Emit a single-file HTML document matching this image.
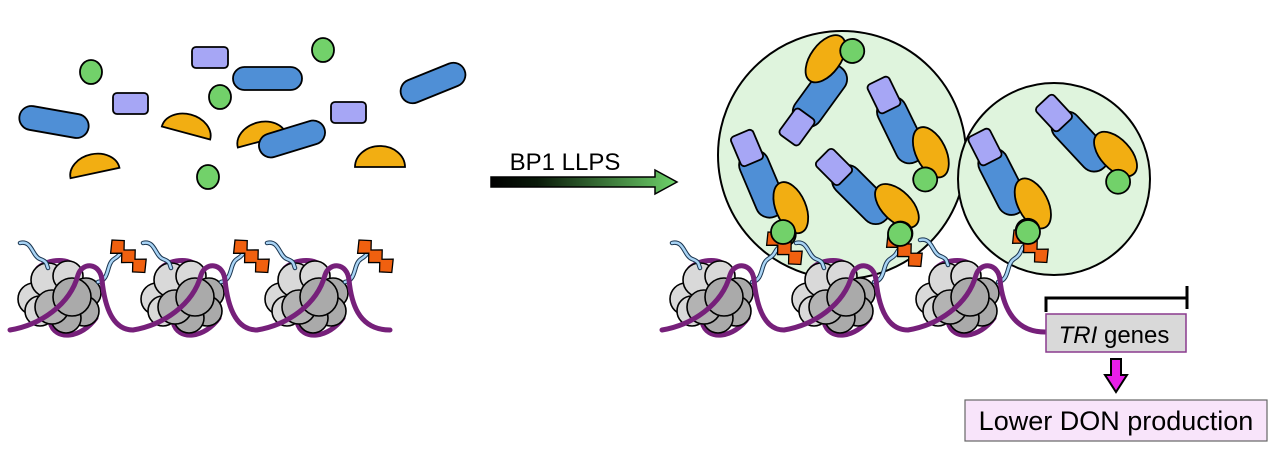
<!DOCTYPE html>
<html><head><meta charset="utf-8"><style>
html,body{margin:0;padding:0;background:#fff;}
svg{display:block;}
text{font-family:"Liberation Sans",Arial,sans-serif;}
</style></head><body>
<svg width="1280" height="472" viewBox="0 0 1280 472" xmlns="http://www.w3.org/2000/svg">
<defs>
  <linearGradient id="ag" x1="0" x2="1" y1="0" y2="0">
    <stop offset="0" stop-color="#000"/>
    <stop offset="0.25" stop-color="#0a1a0a"/>
    <stop offset="1" stop-color="#6ed36a"/>
  </linearGradient>
  <g id="nuc" stroke="#000" stroke-width="1.6">
    <circle cx="-26" cy="2" r="16" fill="#d9d9d9"/>
    <circle cx="-20" cy="14" r="15" fill="#d9d9d9"/>
    <circle cx="-12" cy="-17" r="17" fill="#d9d9d9"/>
    <circle cx="8" cy="-21" r="15" fill="#d9d9d9"/>
    <circle cx="26" cy="-4" r="15" fill="#aaaaaa"/>
    <circle cx="24" cy="14" r="15" fill="#aaaaaa"/>
    <circle cx="6" cy="21" r="15" fill="#aaaaaa"/>
    <circle cx="-8" cy="10" r="17" fill="#b3b3b3"/>
    <circle cx="12" cy="0" r="19" fill="#aaaaaa"/>
  </g>
  <g id="dnaseg" fill="none" stroke="#76207a" stroke-width="5" stroke-linecap="round">
    <path d="M40,322 C45,342 72,338 86,318"/>
    <path d="M28,268 C40,258 60,258 66,268"/>
  </g>
  <g id="cx" stroke="#000" stroke-width="1.8">
    <rect x="4" y="-15" width="70" height="30" rx="14" fill="#4f8fd6"/>
    <rect x="-16" y="-12" width="32" height="24" rx="4" fill="#a6a6f5"/>
    <ellipse cx="72" cy="-17" rx="27" ry="15" fill="#f2ae12"/>
    <circle cx="94" cy="0" r="12" fill="#72d16a"/>
  </g>
  <path id="zz" d="M0,0 l8,-5 l4,6 l7,-5 l4,6 l7,-5 l5,9 l-8,5 l-4,-6 l-7,5 l-4,-6 l-7,5 z" fill="#f0600f" stroke="#000" stroke-width="1"/>
</defs>

<!-- Left scattered molecules -->
<g stroke="#000" stroke-width="1.8">
  <rect x="233" y="67" width="69" height="23" rx="11.5" fill="#4f8fd6"/>
  <rect x="-35" y="-12" width="70" height="24" rx="12" fill="#4f8fd6" transform="translate(54,122) rotate(10)"/>
  <rect x="-34" y="-12" width="68" height="24" rx="12" fill="#4f8fd6" transform="translate(433,83) rotate(-22)"/>
  <path d="M-25,0 A25,19 0 0 1 25,0 Z" fill="#f2ae12" transform="translate(95,173) rotate(-12)"/>
  <path d="M-25,0 A25,19 0 0 1 25,0 Z" fill="#f2ae12" transform="translate(186,133) rotate(15)"/>
  <path d="M-25,0 A25,19 0 0 1 25,0 Z" fill="#f2ae12" transform="translate(262,141) rotate(-15)"/>
  <rect x="-34" y="-12" width="68" height="24" rx="12" fill="#4f8fd6" transform="translate(292,139) rotate(-17)"/>
  <path d="M-25,0 A25,21 0 0 1 25,0 Z" fill="#f2ae12" transform="translate(380,167)"/>
  <rect x="192" y="47" width="36" height="21" rx="4" fill="#a6a6f5"/>
  <rect x="113" y="93" width="35" height="21" rx="4" fill="#a6a6f5"/>
  <rect x="331" y="102" width="35" height="21" rx="4" fill="#a6a6f5"/>
  <ellipse cx="91" cy="72" rx="11" ry="12" fill="#72d16a"/>
  <ellipse cx="323" cy="50" rx="11" ry="12" fill="#72d16a"/>
  <ellipse cx="220" cy="97" rx="11" ry="12" fill="#72d16a"/>
  <ellipse cx="208" cy="177" rx="11" ry="12" fill="#72d16a"/>
</g>

<!-- Arrow -->
<text x="565" y="170" font-size="24" text-anchor="middle" fill="#000">BP1 LLPS</text>
<path d="M491,177 L655,177 L655,170 L677,182 L655,194 L655,187 L491,187 Z" fill="url(#ag)" stroke="#000" stroke-width="1.5"/>

<!-- Condensates -->
<circle cx="842" cy="155" r="124" fill="#dff4dd" stroke="#000" stroke-width="2"/>
<circle cx="1054" cy="179" r="96" fill="#dff4dd" stroke="#000" stroke-width="2"/>

<use href="#cx" transform="translate(797,127) rotate(-54)"/>
<use href="#cx" transform="translate(884,95) rotate(64)"/>
<use href="#cx" transform="translate(747,148) rotate(67)"/>
<use href="#cx" transform="translate(834,167) rotate(45)"/>
<use href="#cx" transform="translate(985,147) rotate(63)"/>
<use href="#cx" transform="translate(1054,113) rotate(47)"/>

<!-- Left chromatin -->
<g>
  <use href="#dnaseg" transform="translate(10,0)"/>
  <use href="#dnaseg" transform="translate(133,0)"/>
  <use href="#dnaseg" transform="translate(257,0)"/>
  <use href="#nuc" transform="translate(60,297)"/>
  <use href="#nuc" transform="translate(183,297)"/>
  <use href="#nuc" transform="translate(307,297)"/>
  <g fill="none" stroke-linecap="round">
    <g stroke="#1a3550" stroke-width="4.5">
      <path d="M20,243 C32,240 32,256 40,259 S46,264 48,268"/>
      <path d="M98,282 C110,280 106,264 114,259 S120,252 122,248"/>
      <path d="M143,243 C155,240 155,256 163,259 S169,264 171,268"/>
      <path d="M221,282 C233,280 229,264 237,259 S243,252 245,248"/>
      <path d="M267,243 C279,240 279,256 287,259 S293,264 295,268"/>
      <path d="M345,282 C357,280 353,264 361,259 S367,252 369,248"/>
    </g>
    <g stroke="#a9d4f5" stroke-width="2.5">
      <path d="M20,243 C32,240 32,256 40,259 S46,264 48,268"/>
      <path d="M98,282 C110,280 106,264 114,259 S120,252 122,248"/>
      <path d="M143,243 C155,240 155,256 163,259 S169,264 171,268"/>
      <path d="M221,282 C233,280 229,264 237,259 S243,252 245,248"/>
      <path d="M267,243 C279,240 279,256 287,259 S293,264 295,268"/>
      <path d="M345,282 C357,280 353,264 361,259 S367,252 369,248"/>
    </g>
  </g>
  <use href="#zz" transform="translate(112,240) rotate(35) scale(1.3)"/>
  <use href="#zz" transform="translate(235,240) rotate(35) scale(1.3)"/>
  <use href="#zz" transform="translate(359,240) rotate(35) scale(1.3)"/>
  <path d="M10,330 C40,325 70,305 78,275 C82,262 100,262 102,280 C104,300 110,330 133,330 C163,325 193,305 201,275 C205,262 223,262 225,280 C227,300 233,330 257,330 C287,325 317,305 325,275 C329,262 347,262 349,280 C351,300 357,330 390,330" fill="none" stroke="#76207a" stroke-width="5" stroke-linecap="round"/>
</g>

<!-- Right chromatin -->
<g>
  <use href="#dnaseg" transform="translate(662,0)"/>
  <use href="#dnaseg" transform="translate(784,0)"/>
  <use href="#dnaseg" transform="translate(908,0)"/>
  <use href="#nuc" transform="translate(712,297)"/>
  <use href="#nuc" transform="translate(834,297)"/>
  <use href="#nuc" transform="translate(958,297)"/>
  <g fill="none" stroke-linecap="round">
    <g stroke="#1a3550" stroke-width="4.5">
      <path d="M672,243 C684,240 684,256 692,259 S698,264 700,268"/>
      <path d="M752,282 C764,280 760,264 768,259 S774,252 778,248"/>
      <path d="M796,243 C808,240 808,256 816,259 S822,264 824,268"/>
      <path d="M874,282 C886,280 882,264 890,259 S896,252 900,248"/>
      <path d="M920,240 C932,237 932,253 940,256 S946,261 948,265"/>
      <path d="M998,282 C1010,280 1006,264 1014,259 S1020,250 1024,246"/>
    </g>
    <g stroke="#a9d4f5" stroke-width="2.5">
      <path d="M672,243 C684,240 684,256 692,259 S698,264 700,268"/>
      <path d="M752,282 C764,280 760,264 768,259 S774,252 778,248"/>
      <path d="M796,243 C808,240 808,256 816,259 S822,264 824,268"/>
      <path d="M874,282 C886,280 882,264 890,259 S896,252 900,248"/>
      <path d="M920,240 C932,237 932,253 940,256 S946,261 948,265"/>
      <path d="M998,282 C1010,280 1006,264 1014,259 S1020,250 1024,246"/>
    </g>
  </g>
  <use href="#zz" transform="translate(768,232) rotate(35) scale(1.3)"/>
  <use href="#zz" transform="translate(888,234) rotate(35) scale(1.3)"/>
  <use href="#zz" transform="translate(1014,230) rotate(35) scale(1.3)"/>
  <circle cx="783" cy="232" r="12" fill="#72d16a" stroke="#000" stroke-width="1.8"/>
  <circle cx="900" cy="234" r="12" fill="#72d16a" stroke="#000" stroke-width="1.8"/>
  <circle cx="1028" cy="232" r="12" fill="#72d16a" stroke="#000" stroke-width="1.8"/>
  <path d="M662,330 C692,325 722,305 730,275 C734,262 752,262 754,280 C756,300 762,330 784,330 C814,325 844,305 852,275 C856,262 874,262 876,280 C878,300 884,330 908,330 C938,325 968,305 976,275 C980,262 998,262 1000,280 C1002,300 1010,332 1045,332" fill="none" stroke="#76207a" stroke-width="5" stroke-linecap="round"/>
</g>

<!-- TRI genes -->
<path d="M1046,312 L1046,298 L1187,298 M1187,286 L1187,309" fill="none" stroke="#000" stroke-width="3"/>
<rect x="1046" y="314" width="140" height="38" fill="#d9d9d9" stroke="#8a3a8e" stroke-width="1.5"/>
<text x="1114" y="343" font-size="24" text-anchor="middle" fill="#000"><tspan font-style="italic">TRI</tspan> genes</text>
<path d="M1111,359 L1121,359 L1121,375 L1127,375 L1116,392 L1105,375 L1111,375 Z" fill="#e81ee8" stroke="#000" stroke-width="2"/>
<rect x="965" y="400" width="302" height="41" fill="#f8e4fa" stroke="#666" stroke-width="1.2"/>
<text x="1116" y="430" font-size="27" text-anchor="middle" fill="#000">Lower DON production</text>
</svg>
</body></html>
